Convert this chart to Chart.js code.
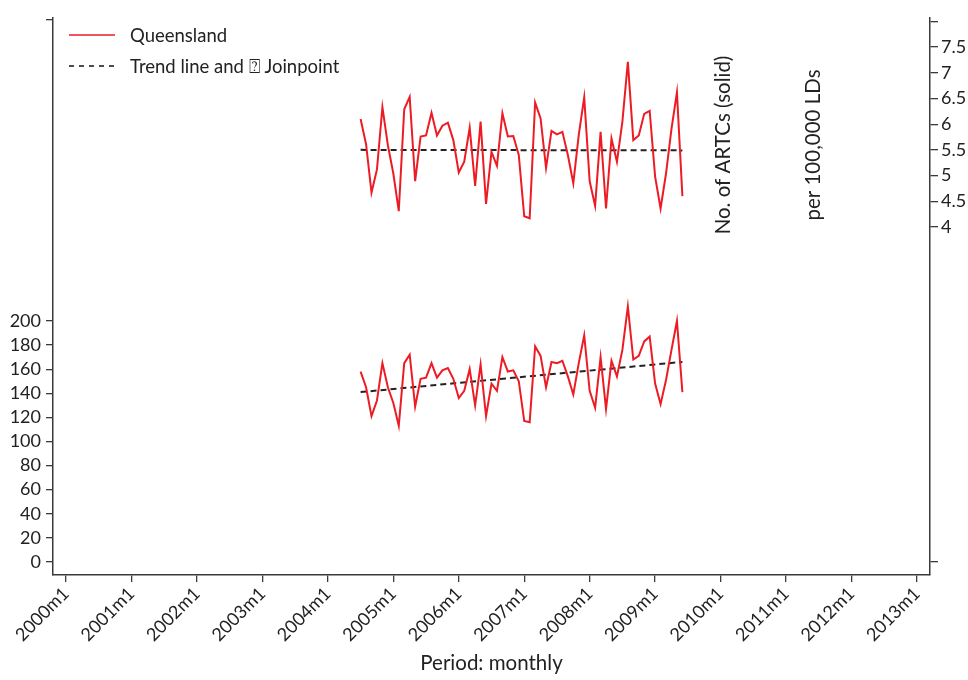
<!DOCTYPE html>
<html>
<head>
<meta charset="utf-8">
<title>Queensland ARTCs</title>
<script src="https://cdn.jsdelivr.net/npm/chart.js@4/dist/chart.umd.min.js"></script>
<style>
  html, body { margin: 0; padding: 0; background: #fff; }
  #wrap { width: 968px; height: 680px; }
</style>
</head>
<body>
<div id="wrap"><canvas id="chart" width="968" height="680"></canvas></div>
<script>
// months are counted from 2000m1 = 0; the series starts at 2004m7
const startMonth = 54;

// monthly number of ARTCs (left axis)
const artcCount = [
  158, 145, 121, 134, 165, 145, 132, 113, 165, 172, 129, 152,
  153, 165, 153, 159, 161, 152, 136, 142, 160, 130, 164, 121,
  148, 142, 170, 158, 159, 150, 117, 116, 179, 171, 145, 166,
  165, 167, 154, 139, 165, 188, 142, 128, 170, 127, 167, 154,
  176, 212, 168, 171, 183, 187, 148, 131, 151, 176, 200, 141
];

// monthly ARTCs per 100,000 LDs (right axis)
const artcRate = [
  6.10, 5.61, 4.67, 5.12, 6.33, 5.59, 5.04, 4.31, 6.29, 6.53, 4.89, 5.76,
  5.78, 6.22, 5.78, 5.97, 6.03, 5.69, 5.06, 5.27, 5.93, 4.80, 6.05, 4.45,
  5.46, 5.19, 6.21, 5.76, 5.77, 5.40, 4.21, 4.17, 6.42, 6.11, 5.15, 5.87,
  5.80, 5.85, 5.40, 4.85, 5.79, 6.52, 4.89, 4.41, 5.85, 4.36, 5.72, 5.27,
  6.05, 7.21, 5.69, 5.78, 6.20, 6.26, 4.98, 4.36, 5.04, 5.91, 6.62, 4.60
];

// fitted trend, first and last month
const countTrend = [141, 166];
const rateTrend = [5.50, 5.49];

const years = [2000, 2001, 2002, 2003, 2004, 2005, 2006, 2007, 2008, 2009, 2010, 2011, 2012, 2013];
const countTicks = [0, 20, 40, 60, 80, 100, 120, 140, 160, 180, 200];
const countBlankTicks = [450];
const rateTicks = [4, 4.5, 5, 5.5, 6, 6.5, 7, 7.5];
const rateBlankTicks = [-2.5, 8];

const RED = '#ed1c24';
const INK = '#222';
const AXIS = '#3a3a3a';
const FONT = 'Lato, "Open Sans", sans-serif';

const toPoints = (arr) => arr.map((v, i) => ({ x: startMonth + i, y: v }));
const endMonth = startMonth + artcCount.length - 1;
const trendPoints = (t) => [{ x: startMonth, y: t[0] }, { x: endMonth, y: t[1] }];

const tickFont = { family: FONT, size: 18 };

// draws the legend box and the two stacked axis captions inside the plot
const overlay = {
  id: 'overlay',
  afterDraw(chart) {
    const ctx = chart.ctx;
    ctx.save();
    ctx.font = `18.5px ${FONT}`;
    ctx.fillStyle = INK;
    ctx.textBaseline = 'middle';

    ctx.strokeStyle = RED;
    ctx.lineWidth = 1.6;
    ctx.beginPath();
    ctx.moveTo(69, 35);
    ctx.lineTo(115, 35);
    ctx.stroke();
    ctx.fillText('Queensland', 130, 36);

    ctx.strokeStyle = INK;
    ctx.lineWidth = 1.6;
    ctx.setLineDash([5, 5]);
    ctx.beginPath();
    ctx.moveTo(69, 66);
    ctx.lineTo(115, 66);
    ctx.stroke();
    ctx.setLineDash([]);
    ctx.fillText('Trend line and \u2370 Joinpoint', 130, 67);

    ctx.font = `20.5px ${FONT}`;
    ctx.textAlign = 'center';
    ctx.translate(723, 145);
    ctx.rotate(-Math.PI / 2);
    ctx.fillText('No. of ARTCs (solid)', 0, 0);
    ctx.rotate(Math.PI / 2);
    ctx.translate(90, 0);
    ctx.rotate(-Math.PI / 2);
    ctx.fillText('per 100,000 LDs', 0, 0);
    ctx.restore();
  }
};

new Chart(document.getElementById('chart'), {
  type: 'line',
  data: {
    datasets: [
      {
        label: 'Queensland',
        data: toPoints(artcCount),
        yAxisID: 'y',
        borderColor: RED,
        borderWidth: 2,
        pointRadius: 0,
        tension: 0
      },
      {
        label: 'Trend line',
        data: trendPoints(countTrend),
        yAxisID: 'y',
        borderColor: INK,
        borderWidth: 2,
        borderDash: [6, 4],
        pointRadius: 0
      },
      {
        label: 'Queensland rate',
        data: toPoints(artcRate),
        yAxisID: 'y1',
        borderColor: RED,
        borderWidth: 2,
        pointRadius: 0,
        tension: 0
      },
      {
        label: 'Trend line rate',
        data: trendPoints(rateTrend),
        yAxisID: 'y1',
        borderColor: INK,
        borderWidth: 2,
        borderDash: [6, 4],
        pointRadius: 0
      }
    ]
  },
  options: {
    responsive: false,
    animation: false,
    layout: { padding: { top: 18, left: 0, right: 0, bottom: 0 } },
    plugins: {
      legend: { display: false },
      tooltip: { enabled: false }
    },
    scales: {
      x: {
        type: 'linear',
        min: -2.4,
        max: 158.4,
        afterBuildTicks: (s) => { s.ticks = years.map((y) => ({ value: (y - 2000) * 12 })); },
        afterFit: (s) => { s.height = 105; },
        ticks: {
          autoSkip: false,
          minRotation: 45,
          maxRotation: 45,
          padding: 1,
          color: INK,
          font: tickFont,
          callback: (v) => `${2000 + v / 12}m1`
        },
        grid: { drawOnChartArea: false, tickLength: 7, color: AXIS, lineWidth: 1.3 },
        border: { color: AXIS, width: 1.5 },
        title: {
          display: true,
          text: 'Period: monthly',
          color: INK,
          font: { family: FONT, size: 20.5 },
          padding: { top: 0, bottom: 4 }
        }
      },
      y: {
        position: 'left',
        min: -10.8,
        max: 451.4,
        afterBuildTicks: (s) => { s.ticks = [...countTicks, ...countBlankTicks].map((v) => ({ value: v })); },
        afterFit: (s) => { s.width = 53; },
        ticks: {
          padding: 5,
          color: INK,
          font: tickFont,
          callback: (v) => (countBlankTicks.includes(v) ? '' : v)
        },
        grid: { drawOnChartArea: false, tickLength: 7, color: AXIS, lineWidth: 1.3 },
        border: { color: AXIS, width: 1.5 }
      },
      y1: {
        position: 'right',
        min: -2.766,
        max: 8.064,
        afterBuildTicks: (s) => { s.ticks = [...rateBlankTicks, ...rateTicks].map((v) => ({ value: v })); },
        afterFit: (s) => { s.width = 38; },
        ticks: {
          padding: 3,
          color: INK,
          font: tickFont,
          callback: (v) => (rateBlankTicks.includes(v) ? '' : v)
        },
        grid: { drawOnChartArea: false, tickLength: 8, color: AXIS, lineWidth: 1.3 },
        border: { color: AXIS, width: 1.5 }
      }
    }
  },
  plugins: [overlay]
});
</script>
</body>
</html>
